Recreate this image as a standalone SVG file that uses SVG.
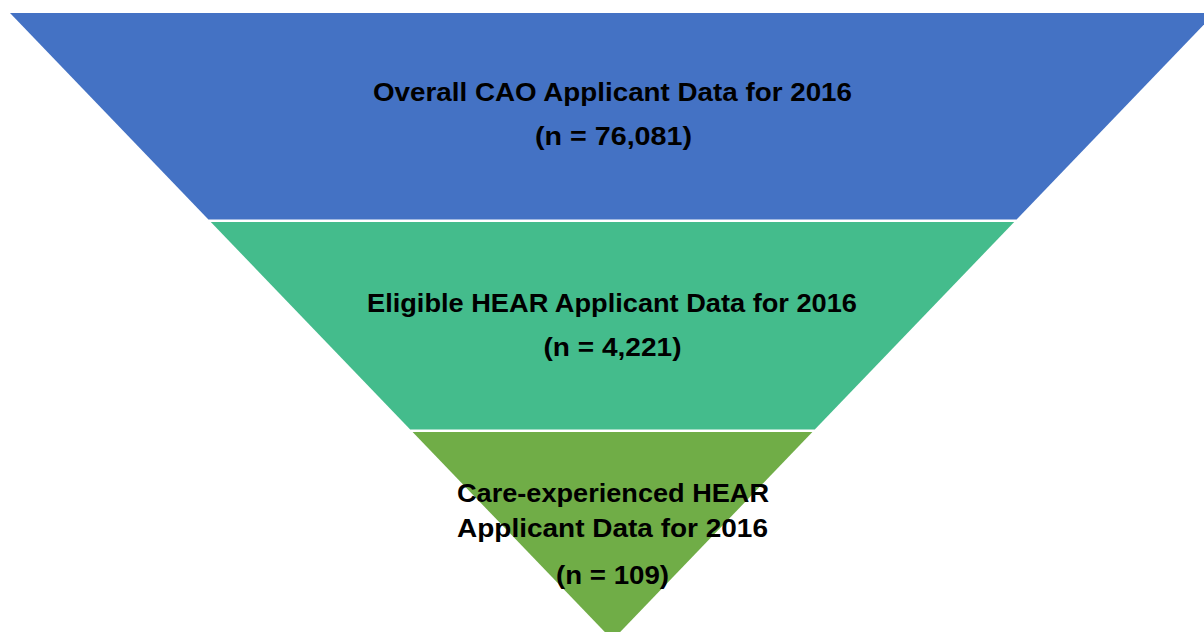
<svg xmlns="http://www.w3.org/2000/svg" width="1204" height="632" viewBox="0 0 1204 632">
<style>
.lbl{font-family:"Liberation Sans",Arial,sans-serif;font-weight:bold;font-size:26.5px;fill:#000;text-anchor:middle}
</style>
<rect width="1204" height="632" fill="#ffffff"/>
<g id="level1">
<polygon points="10,13 1215,13 1016.6,219.5 208.4,219.5" fill="#4472C4"/>
<text class="lbl" x="612.5" y="101" textLength="479" lengthAdjust="spacingAndGlyphs">Overall CAO Applicant Data for 2016</text>
<text class="lbl" x="613.5" y="145" textLength="157" lengthAdjust="spacingAndGlyphs">(n = 76,081)</text>
</g>
<g id="level2">
<polygon points="210.8,222 1014.2,222 814.8,429.5 410.2,429.5" fill="#44BC8C"/>
<text class="lbl" x="612" y="311.5" textLength="490" lengthAdjust="spacingAndGlyphs">Eligible HEAR Applicant Data for 2016</text>
<text class="lbl" x="612.5" y="356" textLength="138" lengthAdjust="spacingAndGlyphs">(n = 4,221)</text>
</g>
<g id="level3">
<polygon points="412.6,432 812.4,432 612.5,640" fill="#70AD47"/>
<text class="lbl" x="613" y="501.5" textLength="312" lengthAdjust="spacingAndGlyphs">Care-experienced HEAR</text>
<text class="lbl" x="612.5" y="537" textLength="311" lengthAdjust="spacingAndGlyphs">Applicant Data for 2016</text>
<text class="lbl" x="612.5" y="584" textLength="113" lengthAdjust="spacingAndGlyphs">(n = 109)</text>
</g>
<g id="connectors"></g>
</svg>
